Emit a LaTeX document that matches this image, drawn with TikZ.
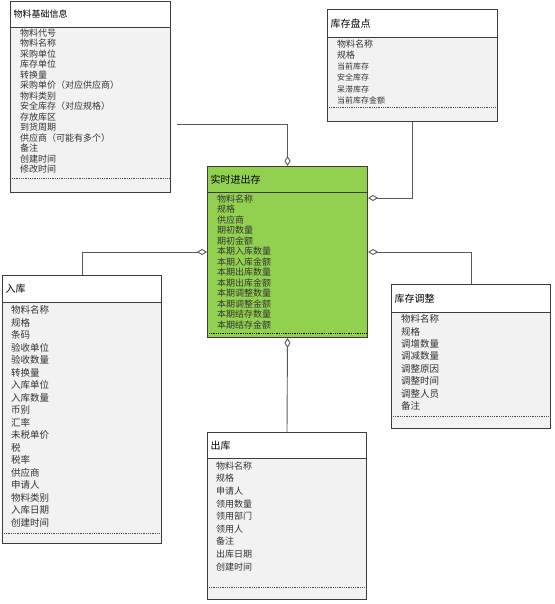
\documentclass[tikz,border=0pt]{standalone}
\usepackage{fontspec}
\setmainfont{Noto Sans CJK SC}
\usetikzlibrary{arrows.meta,positioning,calc}
\definecolor{umlgreen}{RGB}{146,208,80}
\definecolor{umlgray}{RGB}{242,242,242}
\definecolor{umlline}{RGB}{60,60,60}

\begin{document}
\begin{tikzpicture}[x=1pt,y=1pt,
  cls/.style={draw=umlline,line width=1pt,fill=umlgray,anchor=north west,inner sep=0pt},
  hd/.style={draw=umlline,line width=1pt,fill=white,anchor=north west,inner xsep=3pt,inner ysep=0pt,
    align=left,font=\fontsize{10}{12}\selectfont},
  items/.style={anchor=north west,inner sep=0pt,align=left,text=black!80},
  dotl/.style={densely dotted,line width=0.8pt,black!70},
  link/.style={draw=black!65,line width=0.9pt},
  agg/.style={link,-{Diamond[open,length=10pt,width=6pt]}}
]
  \useasboundingbox (0,0) rectangle (554,-604);

  % 物料基础信息
  \node[cls,minimum width=160pt,minimum height=191pt] (jichu) at (10,-1) {};
  \node[hd,text width=154pt,minimum height=26pt,font=\fontsize{9}{11}\selectfont] (jichu-h) at (jichu.north west) {物料基础信息};
  \node[items,font=\fontsize{9}{10.5}\selectfont] (jichu-t) at (20,-28.5) {物料代号\\物料名称\\采购单位\\库存单位\\转换量\\采购单价（对应供应商）\\物料类别\\安全库存（对应规格）\\存放库区\\到货周期\\供应商（可能有多个）\\备注\\创建时间\\修改时间};
  \draw[dotl] ([shift={(2,15)}]jichu.south west) -- ([shift={(-2,15)}]jichu.south east);

  % 库存盘点
  \node[cls,minimum width=170pt,minimum height=112pt] (pandian) at (327,-9) {};
  \node[hd,text width=164pt,minimum height=28pt] (pandian-h) at (pandian.north west) {库存盘点};
  \node[items,font=\fontsize{9}{11.2}\selectfont] (pandian-t) at (337,-39.5) {物料名称\\规格\\{\fontsize{8}{11.2}\selectfont 当前库存}\\{\fontsize{8}{11.2}\selectfont 安全库存}\\{\fontsize{8}{11.2}\selectfont 呆滞库存}\\{\fontsize{8}{11.2}\selectfont 当前库存金额}};
  \draw[dotl] ([shift={(2,15)}]pandian.south west) -- ([shift={(-2,15)}]pandian.south east);

  % 实时进出存
  \node[cls,fill=umlgreen,minimum width=160pt,minimum height=171pt] (shishi) at (207,-166) {};
  \node[hd,fill=umlgreen,text width=154pt,minimum height=26pt] (shishi-h) at (shishi.north west) {实时进出存};
  \node[items,font=\fontsize{9}{10.5}\selectfont] (shishi-t) at (217,-194.5) {物料名称\\规格\\供应商\\期初数量\\期初金额\\本期入库数量\\本期入库金额\\本期出库数量\\本期出库金额\\本期调整数量\\本期调整金额\\本期结存数量\\本期结存金额};
  \draw[dotl,black] ([shift={(2,5)}]shishi.south west) -- ([shift={(-2,5)}]shishi.south east);

  % 入库
  \node[cls,minimum width=159pt,minimum height=268pt] (ruku) at (2,-275) {};
  \node[hd,text width=153pt,minimum height=27pt] (ruku-h) at (ruku.north west) {入库};
  \node[items,font=\fontsize{9.5}{12.5}\selectfont] (ruku-t) at (11,-305.5) {物料名称\\规格\\条码\\验收单位\\验收数量\\转换量\\入库单位\\入库数量\\币别\\汇率\\未税单价\\税\\税率\\供应商\\申请人\\物料类别\\入库日期\\创建时间};
  \draw[dotl] ([shift={(2,11)}]ruku.south west) -- ([shift={(-2,11)}]ruku.south east);

  % 库存调整
  \node[cls,minimum width=159pt,minimum height=144pt] (tiaozheng) at (391,-284) {};
  \node[hd,text width=153pt,minimum height=28pt] (tiaozheng-h) at (tiaozheng.north west) {库存调整};
  \node[items,font=\fontsize{9.5}{12.4}\selectfont] (tiaozheng-t) at (401,-314.5) {物料名称\\规格\\调增数量\\调减数量\\调整原因\\调整时间\\调整人员\\备注};
  \draw[dotl] ([shift={(2,13)}]tiaozheng.south west) -- ([shift={(-2,13)}]tiaozheng.south east);

  % 出库
  \node[cls,minimum width=159pt,minimum height=167pt] (chuku) at (207,-432) {};
  \node[hd,text width=153pt,minimum height=26pt] (chuku-h) at (chuku.north west) {出库};
  \node[items,font=\fontsize{9}{12.6}\selectfont] (chuku-t) at (216,-461.5) {物料名称\\规格\\申请人\\领用数量\\领用部门\\领用人\\备注\\出库日期\\创建时间};
  \draw[dotl] ([shift={(2,13)}]chuku.south west) -- ([shift={(-2,13)}]chuku.south east);

  % connectors
  \coordinate (jichu-end) at (177,-124);
  \draw[agg] (jichu-end) -| (shishi.north);
  \draw[agg] (pandian.south) |- ([yshift=-32pt]shishi.north east);
  \draw[agg] (ruku.north) |- (shishi.west);
  \draw[agg] (tiaozheng.north) |- (shishi.east);
  \draw[agg] (chuku.north) -- (shishi.south);
\end{tikzpicture}
\end{document}
